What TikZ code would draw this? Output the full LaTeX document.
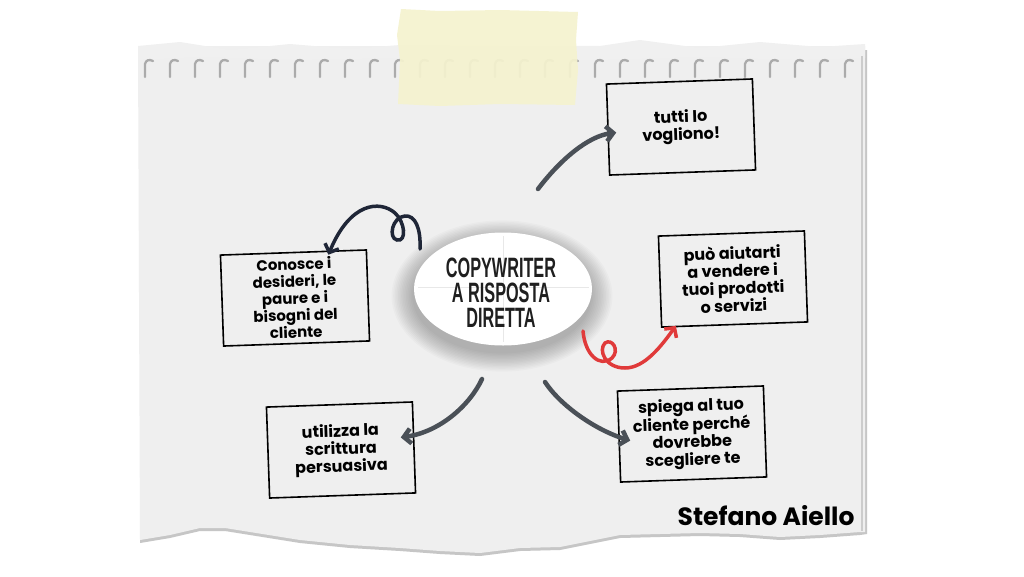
\documentclass[tikz,border=0pt]{standalone}
\usepackage{fontspec}
\usetikzlibrary{shapes.geometric,arrows.meta,calc}
\newfontfamily\hand{Poppins}
\newfontfamily\cond[FakeStretch=0.58]{Liberation Sans}
\definecolor{paper}{HTML}{EFEFEF}
\definecolor{tape}{HTML}{F5F3CF}
\definecolor{garrowc}{HTML}{4A5057}
\definecolor{narrowc}{HTML}{1F2637}
\definecolor{rarrowc}{HTML}{E03A3A}
\definecolor{holec}{HTML}{ABABAB}
\tikzset{
  box/.style={draw=black, line width=1.6pt, minimum width=146pt, minimum height=91pt,
    rotate=2, align=center, inner sep=2pt,
    font=\hand\bfseries\fontsize{16}{17.5}\selectfont},
  garrow/.style={draw=garrowc, line width=4.5pt, line cap=round,
    -{Straight Barb[length=7pt,width=15pt,line width=4.5pt]}},
  narrow/.style={draw=narrowc, line width=3.5pt, line cap=round,
    -{Straight Barb[length=7pt,width=15pt,line width=3.5pt]}},
  rarrow/.style={draw=rarrowc, line width=3.5pt, line cap=round,
    -{Straight Barb[length=7pt,width=15pt,line width=3.5pt]}},
  hole/.style={draw=holec, line width=2.3pt, line cap=round},
  ctext/.style={text=black!88, font=\cond\bfseries\fontsize{28}{28}\selectfont, inner sep=0pt}
}
\begin{document}
\begin{tikzpicture}[x=1pt,y=-1pt]
\useasboundingbox (0,0) rectangle (1024,576);
\fill[white] (0,0) rectangle (1024,576);
% paper shadow
\fill[gray!45] (140,50) -- (867,50) -- (867,534) -- (860,535) -- (820,538) -- (780,540) -- (740,537) -- (700,536) -- (660,537) -- (620,538) -- (590,544) -- (560,550) -- (520,551) -- (480,556) -- (440,554) -- (400,551) -- (350,548) -- (300,543) -- (250,535) -- (225,531) -- (200,531) -- (170,538) -- (140,543) -- cycle;
% paper
\fill[paper] (138,46) -- (865,46) -- (865,532) -- (860,532) -- (820,535) -- (780,537) -- (740,534) -- (700,533) -- (660,534) -- (620,535) -- (590,541) -- (560,547) -- (520,548) -- (480,553) -- (440,551) -- (400,548) -- (350,545) -- (300,540) -- (250,532) -- (225,528) -- (200,528) -- (170,535) -- (140,540) -- cycle;
% top torn band
\fill[gray!12] (138,46) -- (180,42) -- (230,50) -- (290,44) -- (350,49) -- (400,45) -- (600,46) -- (640,40) -- (700,48) -- (760,42) -- (820,47) -- (865,44) -- (865,58) -- (800,60) -- (700,57) -- (600,60) -- (400,58) -- (300,60) -- (200,57) -- (138,60) -- cycle;
\draw[gray!40, line width=1.5pt] (862,56) -- (862,531);
% holes
\foreach \hx in {145,170,...,845} {
  \draw[hole] (\hx,77) -- (\hx,64) .. controls (\hx+1,60) and (\hx+4,59) .. (\hx+8,61);
}
% tape
\fill[tape, opacity=0.92] (401,9) -- (440,11) -- (500,10) -- (578,12) -- (576,40) -- (578,70) -- (575,105) -- (500,104) -- (440,106) -- (398,104) -- (400,60) -- (397,35) -- cycle;
% ellipse shadow
\foreach \i in {1,...,14} {
  \fill[black, opacity=0.018] (502,296) ellipse ({88pt+\i*1.6pt} and {56pt+\i*1.4pt});
}
\node[ellipse, fill=white, minimum width=178pt, minimum height=113pt, inner sep=0pt] (c) at (503,289) {};
\draw[gray!18, line width=0.8pt] (503,236) -- (503,342);
\draw[gray!18, line width=0.8pt] (418,287) -- (589,287);
\node[ctext, anchor=base] (ct1) at (501,277) {COPYWRITER};
\node[ctext, anchor=base] (ct2) at (501,302) {A RISPOSTA};
\node[ctext, anchor=base] (ct3) at (501,327) {DIRETTA};
% boxes
\node[box] (b1) at (681,127) {tutti lo\\vogliono!};
\node[box, font=\hand\bfseries\fontsize{15}{17}\selectfont] (b2) at (295,298) {Conosce i\\desideri, le\\paure e i\\bisogni del\\cliente};
\node[box] (b3) at (733,279) {può aiutarti\\a vendere i\\tuoi prodotti\\o servizi};
\node[box] (b4) at (341,450) {utilizza la\\scrittura\\persuasiva};
\node[box] (b5) at (692,434) {spiega al tuo\\cliente perché\\dovrebbe\\scegliere te};
% start points
\coordinate (s1) at (538,189);
\coordinate (s2) at (420,249);
\coordinate (s3) at (583,331);
\coordinate (s4) at (482,379);
\coordinate (s5) at (545,382);
% arrows
\draw[garrow] (s1) .. controls (560,160) and (588,136) .. ([xshift=9pt,yshift=-3pt]b1.west);
\draw[narrow] (s2) .. controls (421,228) and (415,215) .. (405,216) .. controls (392,217) and (388,238) .. (397,240) .. controls (407,242) and (405,222) .. (395,213) .. controls (380,200) and (350,202) .. ([xshift=35pt,yshift=-3pt]b2.north);
\draw[rarrow] (s3) .. controls (585,355) and (600,368) .. (612,358) .. controls (620,350) and (612,338) .. (605,343) .. controls (598,350) and (605,368) .. (625,368) .. controls (645,368) and (662,345) .. ([xshift=15pt,yshift=2pt]b3.south west);
\draw[garrow] (s4) .. controls (470,405) and (440,432) .. ([xshift=-14pt,yshift=10pt]b4.east);
\draw[garrow] (s5) .. controls (560,405) and (595,430) .. ([xshift=12pt,yshift=-4pt]b5.west);
% signature
\node[anchor=base east, font=\hand\bfseries\fontsize{25}{28}\selectfont] (sig) at (858,525) {Stefano Aiello};
\end{tikzpicture}
\end{document}
